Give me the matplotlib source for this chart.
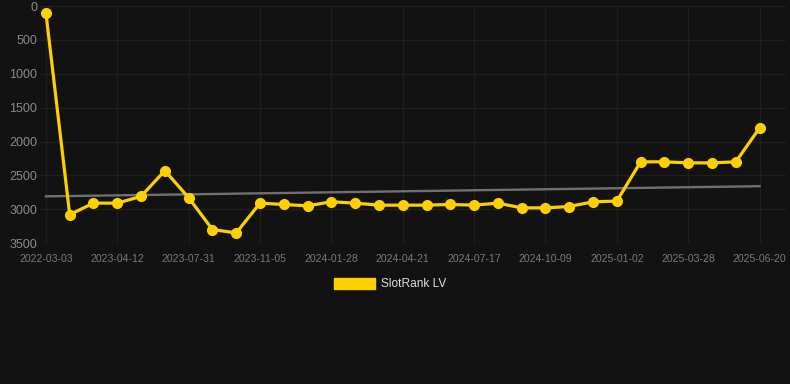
import matplotlib.pyplot as plt
from matplotlib.patches import Patch

# data
dates = [
    "2022-03-03", "", "", "2023-04-12", "", "", "2023-07-31", "", "", "2023-11-05",
    "", "", "2024-01-28", "", "", "2024-04-21", "", "", "2024-07-17", "",
    "", "2024-10-09", "", "", "2025-01-02", "", "", "2025-03-28", "", "",
    "2025-06-20",
]
ranks = [
    100, 3080, 2910, 2910, 2810, 2430, 2830, 3300, 3350, 2910,
    2930, 2950, 2890, 2910, 2940, 2940, 2940, 2930, 2940, 2910,
    2980, 2980, 2960, 2890, 2880, 2300, 2300, 2315, 2315, 2300,
    1800,
]
trend_ends = [2810, 2660]
y_ticks = [0, 500, 1000, 1500, 2000, 2500, 3000, 3500]

bg = "#121212"
yellow = "#ffd000"

plt.rcParams["font.family"] = ["Liberation Sans", "DejaVu Sans"]

fig = plt.figure(figsize=(7.9, 3.84), dpi=100, facecolor=bg)
ax = fig.add_axes([0.0506, 0.367, 0.944, 0.617])
ax.set_facecolor(bg)

x = list(range(len(ranks)))
ax.plot([x[0], x[-1]], trend_ends, color="#707070", linewidth=1.7, zorder=2)
ax.plot(x, ranks, color=yellow, linewidth=2.3, marker="o", markersize=7,
        zorder=3)

ax.set_xlim(-0.25, 31.1)
ax.set_ylim(3500, 0)
ax.set_yticks(y_ticks)
ax.set_yticklabels([str(v) for v in y_ticks], color="#8a8a8a", fontsize=9)

tick_pos = [i for i, d in enumerate(dates) if d]
ax.set_xticks(tick_pos)
ax.set_xticklabels([dates[i] for i in tick_pos], color="#7a7a7a", fontsize=7.6)

ax.tick_params(axis="both", length=0)
ax.tick_params(axis="y", pad=2)
ax.tick_params(axis="x", pad=8)
ax.grid(True, color="#1f1f1f", linewidth=1.0)
for s in ax.spines.values():
    s.set_visible(False)

handle = Patch(facecolor=yellow, edgecolor=yellow)
fig.legend([handle], ["SlotRank LV"], loc="center", bbox_to_anchor=(0.494, 0.26),
           frameon=False, fontsize=8.6, labelcolor="#dddddd",
           handlelength=3.4, handleheight=1.0, handletextpad=0.5)

fig.savefig("out.png", dpi=100, facecolor=bg)
